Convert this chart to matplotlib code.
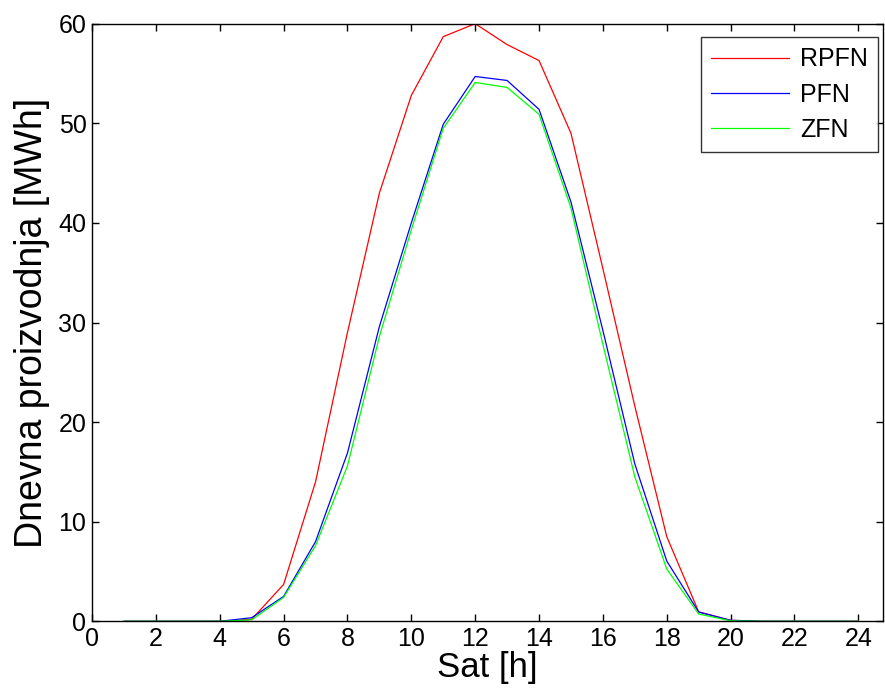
import matplotlib
matplotlib.use("Agg")
import matplotlib.pyplot as plt

plt.rcParams['font.family'] = ['Liberation Sans', 'DejaVu Sans']

hours = list(range(1, 25))
rpfn = [0, 0, 0, 0, 0.2, 3.7, 14.0, 29.0, 43.0, 52.8, 58.7, 60.0,
        57.9, 56.3, 49.0, 35.4, 21.6, 8.5, 0.95, 0.1, 0, 0, 0, 0]
pfn = [0, 0, 0, 0, 0.36, 2.5, 8.0, 16.9, 29.6, 40.0, 49.9, 54.7,
       54.3, 51.4, 42.1, 29.2, 15.8, 6.05, 0.93, 0.1, 0, 0, 0, 0]
zfn = [0, 0, 0, 0, 0.15, 2.4, 7.6, 15.6, 28.6, 39.3, 49.5, 54.1,
       53.6, 50.9, 41.5, 27.8, 14.5, 5.25, 0.73, 0.05, 0, 0, 0, 0]
series_names = ['RPFN', 'PFN', 'ZFN']
series_colors = ['#ff0000', '#0000ff', '#00ff00']
xticks = list(range(0, 25, 2))
yticks = list(range(0, 61, 10))

fig = plt.figure(figsize=(8.85, 6.97), dpi=100)
ax = fig.add_axes([0.104, 0.1086, 0.894, 0.8574])

for vals, name, col in zip([rpfn, pfn, zfn], series_names, series_colors):
    ax.plot(hours, vals, color=col, lw=0.9, label=name)

ax.set_xlim(0, 24.78)
ax.set_ylim(0, 60)
ax.set_xticks(xticks)
ax.set_yticks(yticks)
ax.tick_params(direction='in', top=True, right=True, length=5, width=1,
               labelsize=18, pad=4, colors='black')
for s in ax.spines.values():
    s.set_linewidth(1)
    s.set_color('black')

ax.set_xlabel('Sat [h]', fontsize=25, labelpad=0)
ax.set_ylabel('Dnevna proizvodnja [MWh]', fontsize=27, labelpad=6)

leg = ax.legend(loc='upper right', fontsize=18, frameon=True, fancybox=False,
                edgecolor='black', handlelength=3.1, borderpad=0.42,
                labelspacing=0.45, handletextpad=0.45, borderaxespad=0,
                bbox_to_anchor=(0.9937, 0.978))
leg.get_frame().set_linewidth(1)

fig.savefig('out.png', dpi=100)
